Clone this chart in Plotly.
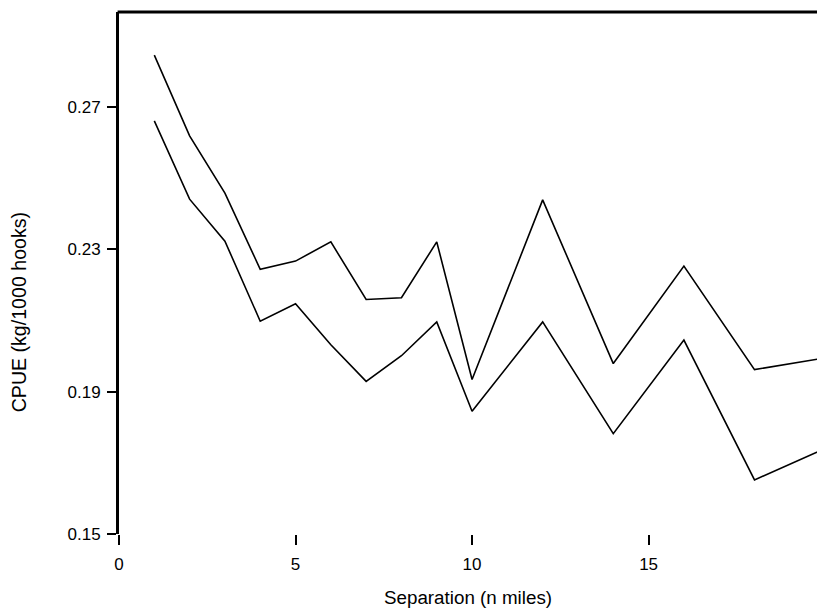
import plotly.graph_objects as go

separation = [1, 2, 3, 4, 5, 6, 7, 8, 9, 10, 12, 14, 16, 18, 20]
cpue_upper = [0.2846, 0.2619, 0.2458, 0.2244, 0.2267, 0.2321, 0.2159, 0.2164,
              0.2321, 0.1934, 0.2439, 0.1979, 0.2253, 0.1962, 0.1995]
cpue_lower = [0.2661, 0.2441, 0.2323, 0.2098, 0.2147, 0.2032, 0.1929, 0.2001,
              0.2096, 0.1845, 0.2096, 0.1782, 0.2045, 0.1652, 0.1740]

x_ticks = [0, 5, 10, 15]
y_ticks = [0.15, 0.19, 0.23, 0.27]
y_ticklabels = ["0.15", "0.19", "0.23", "0.27"]

FONT = "Liberation Sans, Arial, sans-serif"

fig = go.Figure()
for ys in (cpue_upper, cpue_lower):
    fig.add_trace(go.Scatter(x=separation, y=ys, mode="lines",
                             line=dict(color="black", width=1.6),
                             showlegend=False, hoverinfo="skip"))

fig.update_layout(
    width=817, height=613,
    margin=dict(l=119, r=0, t=12, b=79),
    paper_bgcolor="white", plot_bgcolor="white",
    font=dict(family=FONT, color="black", size=17),
    xaxis=dict(range=[0, 19.77], tickvals=x_ticks, ticktext=[str(v) for v in x_ticks],
               showline=False, showgrid=False, zeroline=False,
               ticks="outside", ticklen=10, tickwidth=1.5, tickcolor="black",
               ticklabelstandoff=5, tickfont=dict(size=17, family=FONT)),
    yaxis=dict(range=[0.15, 0.2967], tickvals=y_ticks, ticktext=y_ticklabels,
               showline=True, linewidth=3, linecolor="black",
               showgrid=False, zeroline=False,
               ticks="outside", ticklen=9, tickwidth=1.5, tickcolor="black",
               ticklabelstandoff=3, tickfont=dict(size=17, family=FONT)),
    shapes=[dict(type="line", xref="paper", yref="paper", x0=-0.002, x1=1.0, y0=1, y1=1,
                 line=dict(color="black", width=3))],
    annotations=[
        dict(text="Separation (n miles)", xref="paper", yref="paper", x=0.5, y=-0.1226,
             xanchor="center", yanchor="middle", showarrow=False,
             font=dict(size=18.8, family=FONT)),
        dict(text="CPUE (kg/1000 hooks)", xref="paper", yref="paper", x=-0.143, y=0.425,
             xanchor="center", yanchor="middle", showarrow=False, textangle=-90,
             font=dict(size=19.6, family=FONT)),
    ],
)

fig.write_html(
    "out.html",
    config={"displayModeBar": False},
    post_script="document.body.style.margin='0';document.body.style.overflow='hidden';",
)
